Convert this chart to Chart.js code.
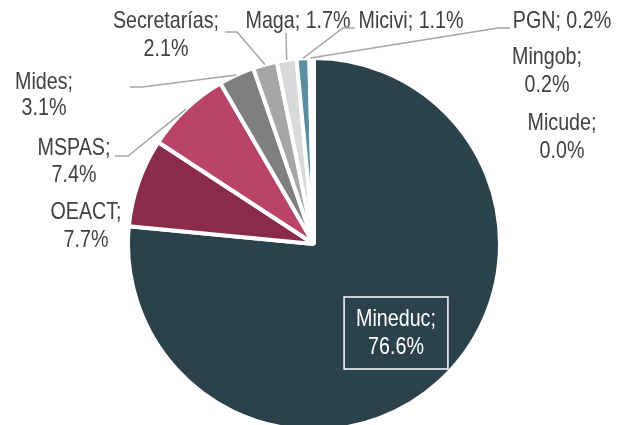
<!DOCTYPE html>
<html>
<head>
<meta charset="utf-8">
<script src="https://cdn.jsdelivr.net/npm/chart.js@4/dist/chart.umd.min.js"></script>
<style>
  html, body { margin: 0; padding: 0; background: #fff; overflow: hidden; }
  #wrap { position: relative; width: 625px; height: 425px; }
</style>
</head>
<body>
<div id="wrap"><canvas id="chart"></canvas></div>
<script>
/* Pie — share by institution, labels with leader lines */

const labels = ['Mineduc', 'OEACT', 'MSPAS', 'Mides', 'Secretarías', 'Maga', 'Micivi', 'PGN', 'Mingob', 'Micude'];
const values = [76.6, 7.7, 7.4, 3.1, 2.1, 1.7, 1.1, 0.2, 0.2, 0.0];
const colors = ['#2b414c', '#8a2b4b', '#b94467', '#7f7f7f', '#a6a6a6', '#d9d9d9', '#5a8fa3', '#9cc2d0', '#c9dde4', '#e8f0f3'];

const TEXT = '#404040';
const LEADER = '#a6a6a6';
const FONT = '24px "Liberation Sans", Arial, sans-serif';
const SQUEEZE = 0.82;   // narrow look

/* where each label sits; leader = elbow points before the slice edge */
const labelLayout = [
  { x: 396, y: [319, 347], boxed: true },
  { x: 86,  y: [212, 240] },
  { x: 74,  y: [148, 175], leader: [[115, 156], [128, 156]] },
  { x: 44,  y: [82, 108],  leader: [[130, 87], [142, 87]] },
  { x: 166, y: [21, 49],   leader: [[225, 32], [237, 32]] },
  { x: 298, y: [21],       leader: [[286, 33]] , oneLine: true },
  { x: 411, y: [21],       leader: [[355, 28], [343, 28]], oneLine: true },
  { x: 562, y: [21],       leader: [[510, 28], [498, 28]], oneLine: true },
  { x: 547, y: [57, 85] },
  { x: 562, y: [123, 151] },
];

function fmt(v) { return v.toFixed(1) + '%'; }

function drawText(ctx, str, cx, cy, color) {
  ctx.save();
  ctx.translate(cx, cy);
  ctx.scale(SQUEEZE, 1);
  ctx.fillStyle = color;
  ctx.font = FONT;
  ctx.textAlign = 'center';
  ctx.textBaseline = 'middle';
  ctx.fillText(str, 0, 0);
  ctx.restore();
}

const pieLabels = {
  id: 'pieLabels',
  afterDatasetsDraw(chart) {
    const ctx = chart.ctx;
    const arcs = chart.getDatasetMeta(0).data;

    arcs.forEach((arc, i) => {
      const lay = labelLayout[i];
      if (!lay) return;
      const lines = lay.oneLine
        ? [labels[i] + '; ' + fmt(values[i])]
        : [labels[i] + ';', fmt(values[i])];

      /* leader line to the middle of the slice's outer edge */
      if (lay.leader) {
        const mid = (arc.startAngle + arc.endAngle) / 2;
        const ex = arc.x + Math.cos(mid) * arc.outerRadius;
        const ey = arc.y + Math.sin(mid) * arc.outerRadius;
        ctx.save();
        ctx.strokeStyle = LEADER;
        ctx.lineWidth = 1.5;
        ctx.beginPath();
        lay.leader.forEach((p, k) => k ? ctx.lineTo(p[0], p[1]) : ctx.moveTo(p[0], p[1]));
        ctx.lineTo(ex, ey);
        ctx.stroke();
        ctx.restore();
      }

      const color = lay.boxed ? '#ffffff' : TEXT;
      lines.forEach((t, k) => drawText(ctx, t, lay.x, lay.y[k], color));

      if (lay.boxed) {
        ctx.save();
        ctx.font = FONT;
        const w = Math.max(...lines.map(t => ctx.measureText(t).width)) * SQUEEZE + 24;
        const top = lay.y[0] - 22;
        const h = lay.y[lay.y.length - 1] - lay.y[0] + 44;
        ctx.strokeStyle = '#ffffff';
        ctx.lineWidth = 1.5;
        ctx.strokeRect(lay.x - w / 2, top, w, h);
        ctx.restore();
      }
    });
  }
};

new Chart(document.getElementById('chart'), {
  type: 'pie',
  data: {
    labels: labels,
    datasets: [{
      data: values,
      backgroundColor: colors,
      borderColor: '#ffffff',
      borderWidth: 4,
      clip: false,
    }],
  },
  options: {
    responsive: true,
    maintainAspectRatio: false,
    animation: false,
    radius: 186,
    layout: { padding: { top: 63, bottom: 0, left: 3, right: 0 } },
    plugins: {
      legend: { display: false },
      tooltip: { enabled: false },
    },
  },
  plugins: [pieLabels],
});
</script>
</body>
</html>
